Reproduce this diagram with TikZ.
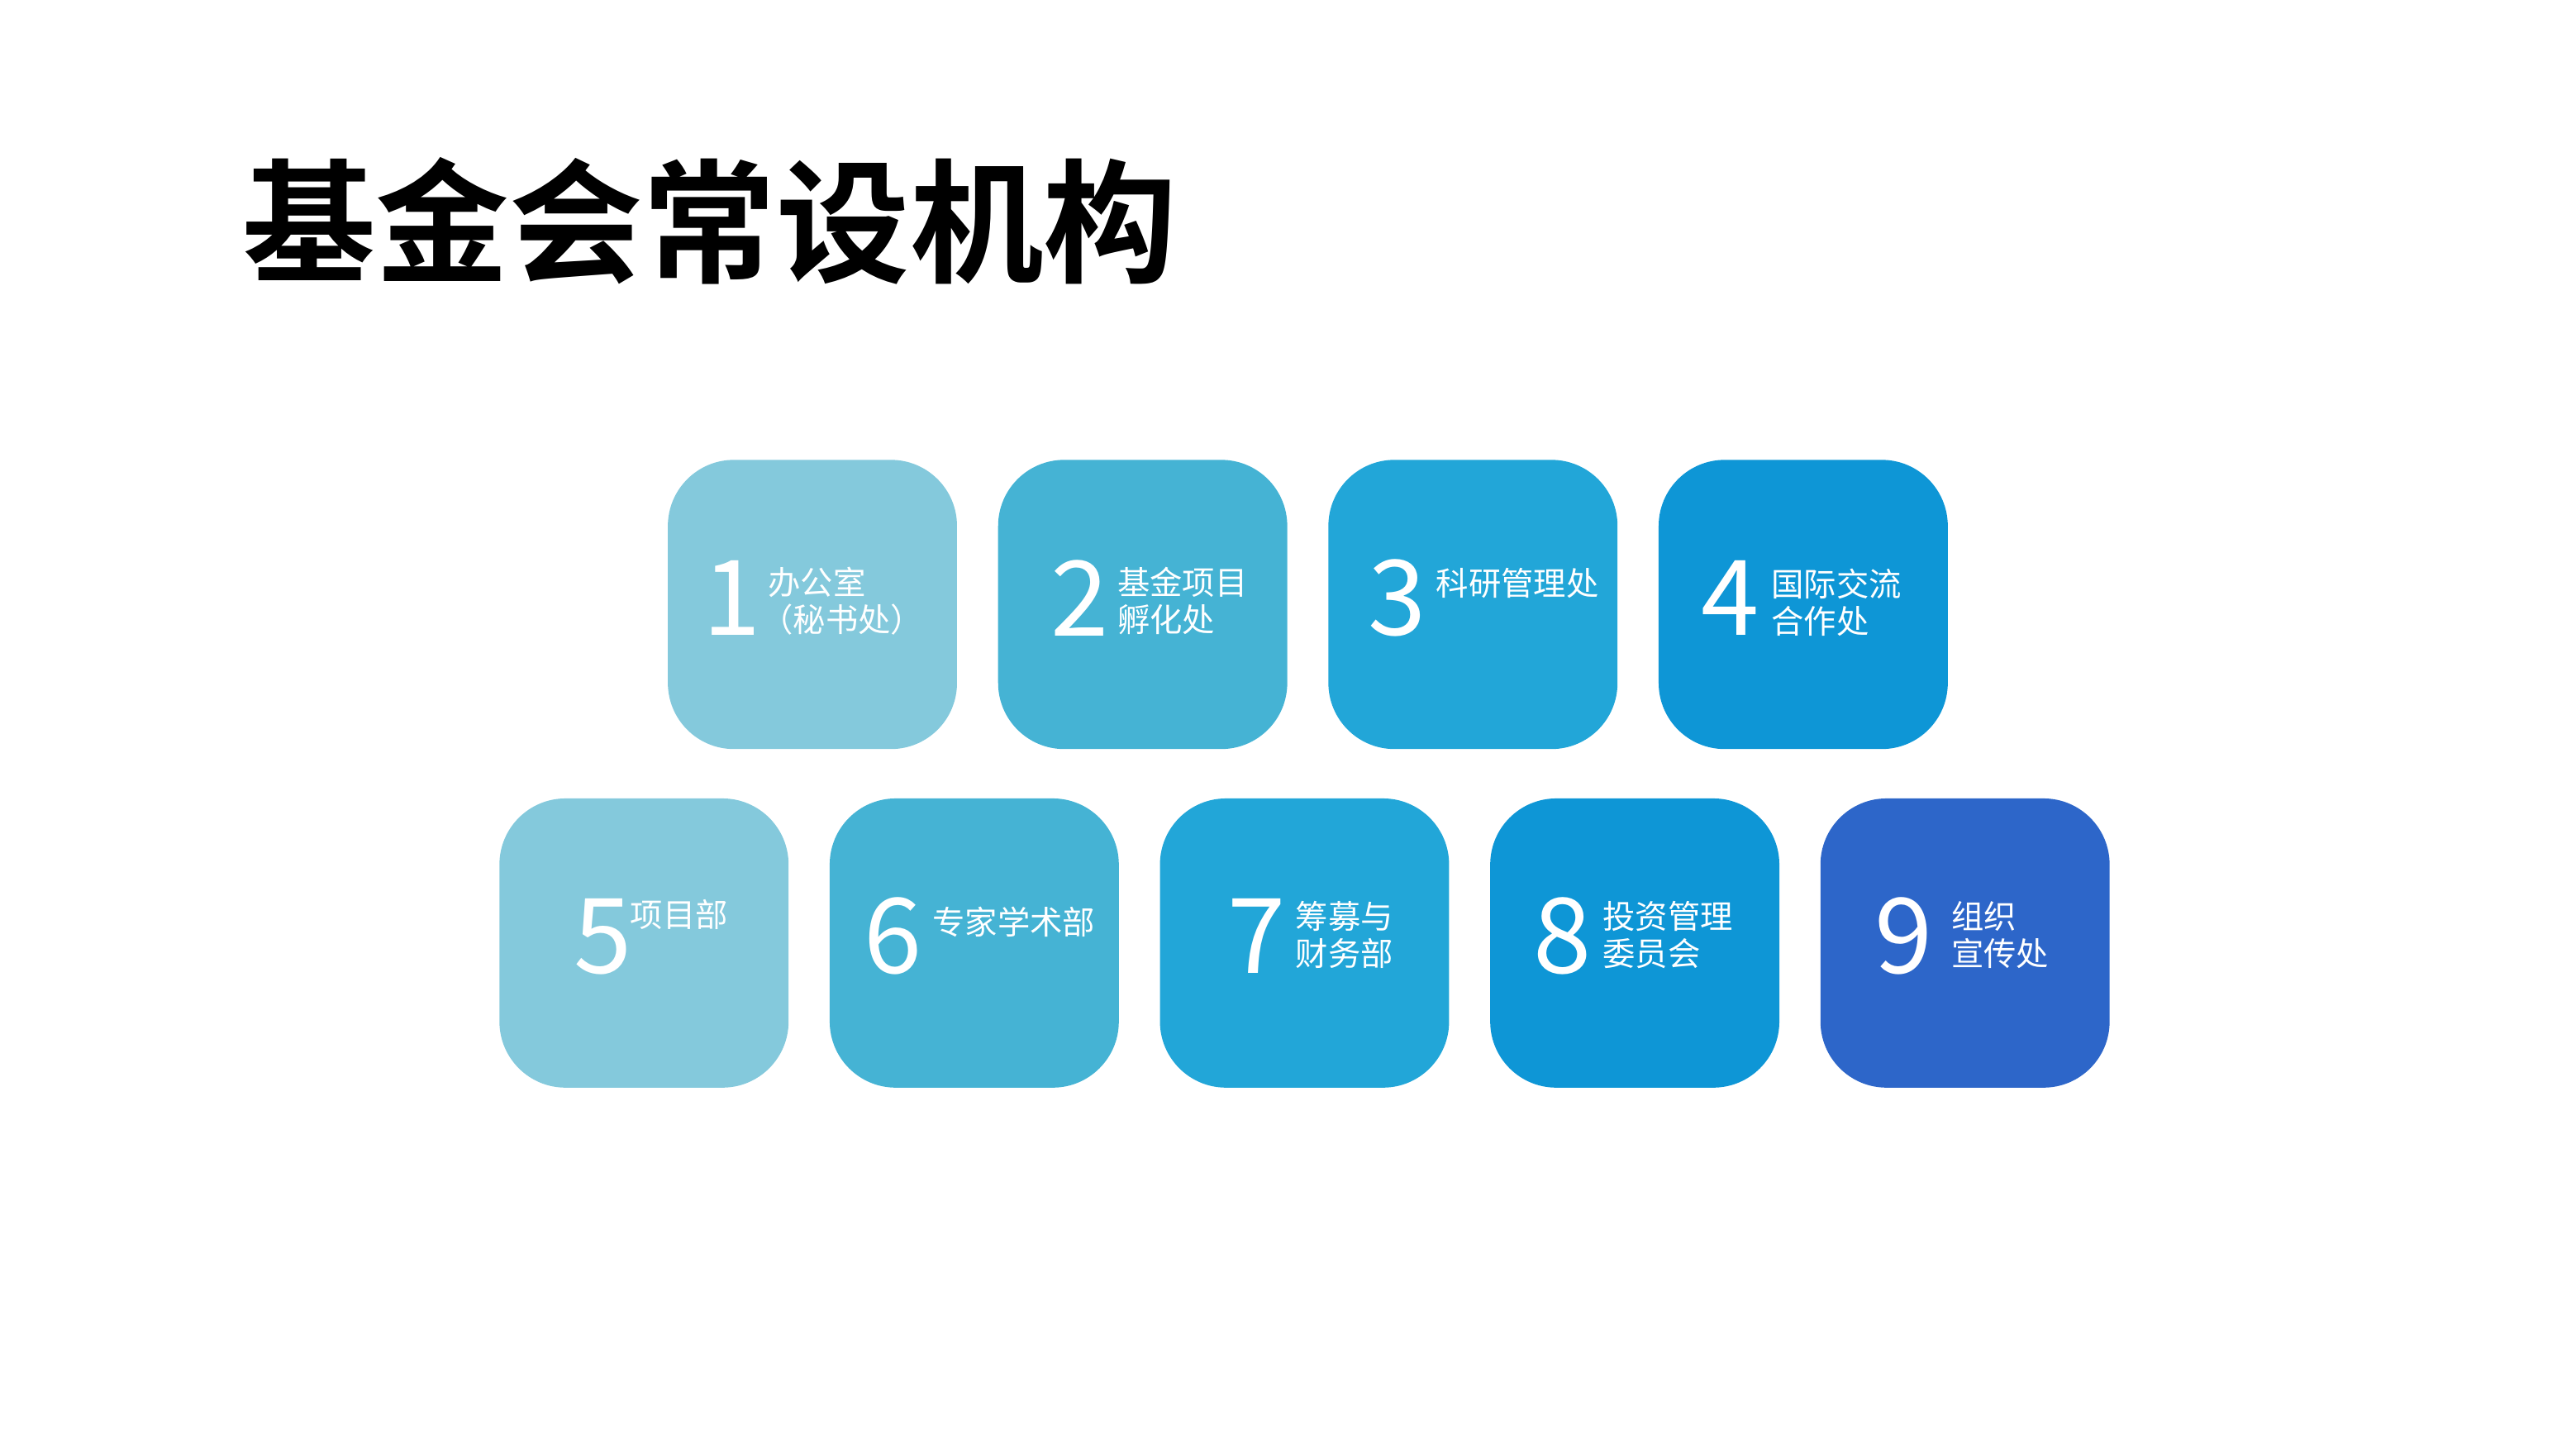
\documentclass[tikz,border=0pt]{standalone}
\usepackage{fontspec}
\newfontfamily\cjk{Noto Sans CJK SC}
\newfontfamily\cjkbold{Noto Sans CJK SC Bold}
\usetikzlibrary{positioning}
\definecolor{cA}{HTML}{84C9DC}
\definecolor{cB}{HTML}{45B3D4}
\definecolor{cC}{HTML}{22A6D8}
\definecolor{cD}{HTML}{0E96D6}
\definecolor{cE}{HTML}{2D66C9}
\tikzset{
  card/.style={fill=#1, draw=none, rounded corners=0.4cm, minimum width=1.75cm, minimum height=1.75cm, inner sep=0pt},
  num/.style={text=white, font=\cjk\fontsize{18}{18}\selectfont, inner sep=0pt},
  lbl/.style={text=white, font=\cjk\fontsize{5.6}{6.4}\selectfont, align=left, anchor=west, inner sep=0pt}
}
\begin{document}
\begin{tikzpicture}[x=0.01cm, y=-0.01cm]
\useasboundingbox (0,0) rectangle (1560,877);
\node[anchor=west, inner sep=0pt, font=\cjkbold\fontsize{23}{23}\selectfont] (title) at (146,134) {基金会常设机构};
% top row
\node[card=cA] (b1) at (492,366) {};
\node[card=cB] (b2) at (692,366) {};
\node[card=cC] (b3) at (892,366) {};
\node[card=cD] (b4) at (1092,366) {};
% bottom row
\node[card=cA] (b5) at (390,571) {};
\node[card=cB] (b6) at (590,571) {};
\node[card=cC] (b7) at (790,571) {};
\node[card=cD] (b8) at (990,571) {};
\node[card=cE] (b9) at (1190,571) {};
% numbers
\node[num] (n1) at (443,362) {1};
\node[num] (n2) at (654,362) {2};
\node[num] (n3) at (846,362) {3};
\node[num] (n4) at (1048,362) {4};
\node[num] (n5) at (365,567) {5};
\node[num] (n6) at (541,567) {6};
\node[num] (n7) at (761,567) {7};
\node[num] (n8) at (946,567) {8};
\node[num] (n9) at (1153,567) {9};
% labels
\node[lbl] (t1) at (460,364) {\ 办公室\\（秘书处）};
\node[lbl] (t2) at (676,364) {基金项目\\孵化处};
\node[lbl] (t3) at (869,353) {科研管理处};
\node[lbl] (t4) at (1072,365) {国际交流\\合作处};
\node[lbl] (t5) at (381,554) {项目部};
\node[lbl] (t6) at (564,558) {专家学术部};
\node[lbl] (t7) at (784,566) {筹募与\\财务部};
\node[lbl] (t8) at (970,566) {投资管理\\委员会};
\node[lbl] (t9) at (1181,566) {组织\\宣传处};
\end{tikzpicture}
\end{document}
